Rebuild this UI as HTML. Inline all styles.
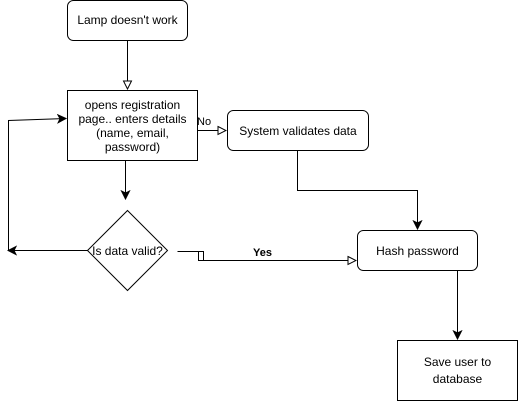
<!DOCTYPE html>
<html><head><style>
html,body{margin:0;padding:0;background:#fff;}
svg{display:block;}
text{font-family:"Liberation Sans",Arial,sans-serif;font-size:12px;fill:#000;}
</style></head><body>
<svg width="518" height="401" viewBox="0 0 518 401" xmlns="http://www.w3.org/2000/svg">
<defs>
<marker id="open" markerWidth="10" markerHeight="10" refX="9" refY="5" orient="auto" markerUnits="userSpaceOnUse">
<path d="M1,1 L9,5 L1,9 Z" fill="#fff" stroke="#000" stroke-width="1"/>
</marker>
<marker id="fill" markerWidth="10" markerHeight="10" refX="9" refY="5" orient="auto" markerUnits="userSpaceOnUse">
<path d="M1,1 L9,5 L1,9 L3,5 Z" fill="#000" stroke="#000" stroke-width="1"/>
</marker>
</defs>
<g fill="#fff" stroke="#000" stroke-width="1">
<rect x="67.5" y="0.5" width="120" height="40" rx="6"/>
<rect x="67.5" y="90.5" width="130" height="70"/>
<rect x="227.5" y="110.5" width="141" height="40" rx="6"/>
<polygon points="127.5,210.5 167.5,250.5 127.5,290.5 87.5,250.5"/>
<rect x="357.5" y="230.5" width="120" height="40" rx="6"/>
<rect x="397.5" y="340.5" width="120" height="60"/>
</g>
<g fill="none" stroke="#000" stroke-width="1">
<line x1="127.5" y1="40.5" x2="127.5" y2="89" marker-end="url(#open)"/>
<line x1="197.5" y1="130.5" x2="226" y2="130.5" marker-end="url(#open)"/>
<line x1="125.5" y1="160.5" x2="125.5" y2="199" marker-end="url(#fill)"/>
<polyline points="297.5,150.5 297.5,190.5 417.5,190.5 417.5,229" marker-end="url(#fill)"/>
<polyline points="87.5,250.5 8,250.5" marker-end="url(#fill)"/>
<polyline points="8.5,250.5 8.5,120.5 66,118.5" marker-end="url(#fill)"/>
<polyline points="177.5,251.5 203.5,251.5 203.5,260.5"/>
<polyline points="198.5,251.5 198.5,260.5 356,260.5" marker-end="url(#open)"/>
<line x1="457.5" y1="270.5" x2="457.5" y2="339" marker-end="url(#fill)"/>
</g>
<text x="127.5" y="24" text-anchor="middle">Lamp doesn't work</text>
<text x="132.5" y="109" text-anchor="middle">opens registration</text>
<text x="132.5" y="123" text-anchor="middle">page.. enters details</text>
<text x="132.5" y="137" text-anchor="middle">(name, email,</text>
<text x="132.5" y="151" text-anchor="middle">password)</text>
<text x="298" y="135" text-anchor="middle">System validates data</text>
<text x="127.5" y="255" text-anchor="middle">Is data valid?</text>
<text x="417.5" y="255" text-anchor="middle">Hash password</text>
<text x="457.5" y="366" text-anchor="middle">Save user to</text>
<text x="457.5" y="383" text-anchor="middle">database</text>
<text x="197" y="125" style="font-size:11px">No</text>
<text x="253" y="256" style="font-size:11px;font-weight:bold">Yes</text>
</svg>
</body></html>
